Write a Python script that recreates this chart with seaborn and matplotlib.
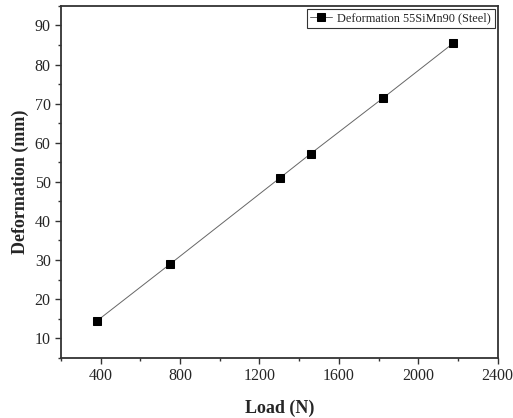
import numpy as np
import pandas as pd
import matplotlib
matplotlib.use("Agg")
import matplotlib.pyplot as plt
from matplotlib.ticker import MultipleLocator
import seaborn as sns

# valeurs
load = [380, 750, 1303, 1458, 1822, 2175]
deformation = [14.4, 29.0, 51.0, 57.2, 71.4, 85.4]
label = "Deformation 55SiMn90 (Steel)"

df = pd.DataFrame({"Load (N)": load, "Deformation (mm)": deformation})

sns.set_style("white")
plt.rcParams["font.family"] = ["Liberation Serif", "DejaVu Serif"]

fig, ax = plt.subplots(figsize=(5.13, 4.18), dpi=100)
sns.lineplot(data=df, x="Load (N)", y="Deformation (mm)", ax=ax,
             color="#666666", linewidth=0.7, marker="s", markersize=5.3,
             markerfacecolor="black", markeredgecolor="black",
             label=label)

ax.set_xlim(200, 2400)
ax.set_ylim(5, 95)
ax.xaxis.set_minor_locator(MultipleLocator(200))
ax.yaxis.set_minor_locator(MultipleLocator(5))
ax.set_xticks([400, 800, 1200, 1600, 2000, 2400])
ax.set_yticks([10, 20, 30, 40, 50, 60, 70, 80, 90])
ax.tick_params(which="major", direction="out", length=4, width=1,
               color="#333333", labelsize=11.5, bottom=True, left=True,
               top=False, right=False)
ax.tick_params(which="minor", direction="out", length=2.5, width=1,
               color="#333333", bottom=True, left=True)

for s in ax.spines.values():
    s.set_color("#333333")
    s.set_linewidth(1.3)

ax.set_xlabel("Load (N)", fontsize=13, fontweight="bold", labelpad=11)
ax.set_ylabel("Deformation (mm)", fontsize=13, fontweight="bold", labelpad=4)

leg = ax.legend(loc="upper right", fontsize=8.8, frameon=True, fancybox=False,
                borderpad=0.3, handlelength=1.8, handletextpad=0.4,
                borderaxespad=0.25)
leg.get_frame().set_edgecolor("black")
leg.get_frame().set_linewidth(0.8)

fig.subplots_adjust(left=0.119, right=0.97, top=0.986, bottom=0.144)
fig.savefig("out.png", dpi=100)
plt.close()
